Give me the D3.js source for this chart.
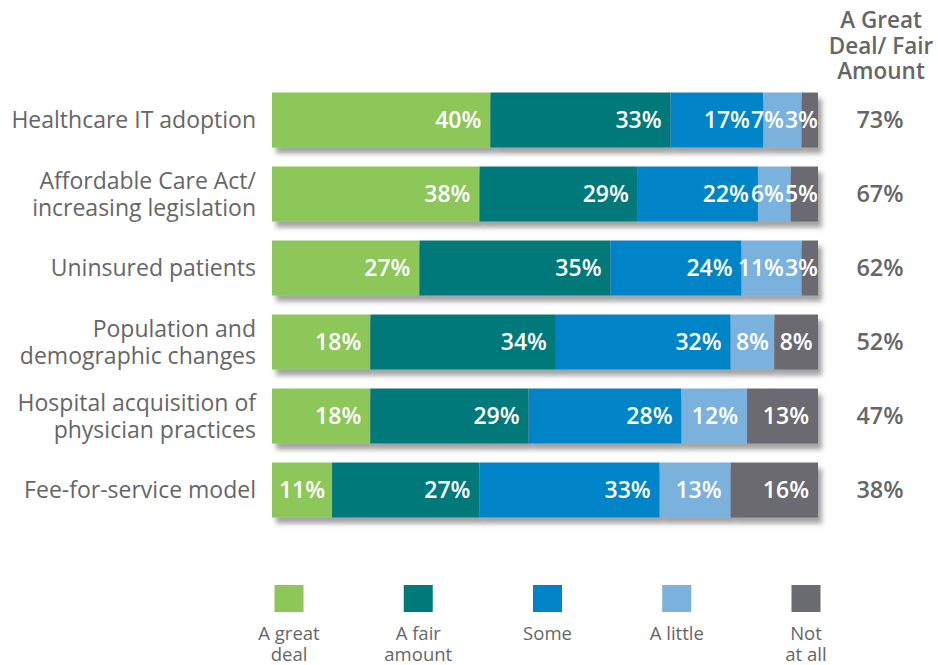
<!DOCTYPE html>
<html>
<head>
<meta charset="utf-8">
<script src="https://cdn.jsdelivr.net/npm/d3@7"></script>
<style>
  body { margin: 0; background: #fff; }
  svg { display: block; font-family: "Open Sans", "Noto Sans", sans-serif; }
  .cat { fill: #666; font-size: 23px; }
  .val { fill: #fff; font-size: 23px; font-weight: 600; }
  .tot { fill: #666; font-size: 23.5px; font-weight: 600; }
  .hdr { fill: #666; font-size: 22.5px; font-weight: 600; }
  .leg { fill: #666; font-size: 18.5px; }
</style>
</head>
<body>
<svg id="chart" width="938" height="665"></svg>
<script>
// categories, top to bottom
var categories = [
  ["Healthcare IT adoption"],
  ["Affordable Care Act/", "increasing legislation"],
  ["Uninsured patients"],
  ["Population and", "demographic changes"],
  ["Hospital acquisition of", "physician practices"],
  ["Fee-for-service model"]
];

var series = ["A great deal", "A fair amount", "Some", "A little", "Not at all"];
var seriesLabels = [["A great", "deal"], ["A fair", "amount"], ["Some"], ["A little"], ["Not", "at all"]];
var colors = ["#8dc75a", "#00797a", "#0084c8", "#7ab1dd", "#6a6b70"];

var greatDeal  = [40, 38, 27, 18, 18, 11];
var fairAmount = [33, 29, 35, 34, 29, 27];
var some       = [17, 22, 24, 32, 28, 33];
var aLittle    = [7, 6, 11, 8, 12, 13];
var notAtAll   = [3, 5, 3, 8, 13, 16];
var totals     = [73, 67, 62, 52, 47, 38];

var header = ["A Great", "Deal/ Fair", "Amount"];

var svg = d3.select("#chart");

var defs = svg.append("defs");
defs.append("filter")
    .attr("id", "shadow")
    .attr("x", "-5%").attr("y", "-20%")
    .attr("width", "115%").attr("height", "160%")
  .append("feDropShadow")
    .attr("dx", 4).attr("dy", 6)
    .attr("stdDeviation", 2.5)
    .attr("flood-color", "#555")
    .attr("flood-opacity", 0.55);

var rows = categories.map(function(c, i) {
  return {
    label: c,
    values: [greatDeal[i], fairAmount[i], some[i], aLittle[i], notAtAll[i]],
    total: totals[i]
  };
});

var x = d3.scaleLinear().domain([0, 100]).range([272, 818]);
var y = d3.scaleBand()
    .domain(d3.range(rows.length))
    .range([83, 527])
    .paddingInner(0.257)
    .paddingOuter(0.1285);

var row = svg.selectAll(".row")
    .data(rows)
  .enter().append("g")
    .attr("class", "row")
    .attr("transform", function(d, i) { return "translate(0," + y(i) + ")"; });

// stacked segments
row.each(function(d) {
  var g = d3.select(this);
  var acc = 0;
  var segs = d.values.map(function(v, k) {
    var s = { v: v, k: k, x0: acc, x1: acc + v };
    acc += v;
    return s;
  });

  var bars = g.append("g").attr("filter", "url(#shadow)");
  bars.selectAll("rect")
      .data(segs)
    .enter().append("rect")
      .attr("x", function(s) { return x(s.x0); })
      .attr("y", 0)
      .attr("width", function(s) { return x(s.x1) - x(s.x0); })
      .attr("height", y.bandwidth())
      .attr("fill", function(s) { return colors[s.k]; });

  var labels = g.selectAll(".val")
      .data(segs)
    .enter().append("text")
      .attr("class", "val")
      .attr("y", y.bandwidth() / 2)
      .attr("dy", "0.36em")
      .attr("text-anchor", "end")
      .text(function(s) { return s.v + "%"; });

  // place from right to left so cramped labels push left instead of overlapping
  var limit = Infinity;
  labels.nodes().reverse().forEach(function(node) {
    var s = d3.select(node).datum();
    var w = node.getComputedTextLength();
    var segW = x(s.x1) - x(s.x0);
    var pad = segW > w + 18 ? 9 : Math.max(0, (segW - w) / 2);
    var right = Math.min(x(s.x1) - pad, limit);
    d3.select(node).attr("x", right);
    limit = right - w - 1;
  });

  // category label
  var lines = d.label;
  var lh = 27;
  var txt = g.append("text")
      .attr("class", "cat")
      .attr("text-anchor", "end")
      .attr("x", 256);
  lines.forEach(function(l, j) {
    txt.append("tspan")
        .attr("x", 256)
        .attr("y", y.bandwidth() / 2 + (j - (lines.length - 1) / 2) * lh)
        .attr("dy", "0.36em")
        .text(l);
  });

  // total
  g.append("text")
      .attr("class", "tot")
      .attr("text-anchor", "middle")
      .attr("x", 880)
      .attr("y", y.bandwidth() / 2)
      .attr("dy", "0.36em")
      .text(d.total + "%");
});

// column header
var h = svg.append("text")
    .attr("class", "hdr")
    .attr("text-anchor", "middle");
header.forEach(function(l, j) {
  h.append("tspan")
      .attr("x", 881)
      .attr("y", 20 + j * 25.5)
      .attr("dy", "0.36em")
      .text(l);
});

// legend
var lx = d3.scalePoint().domain(series).range([289, 806]);
var leg = svg.selectAll(".legend")
    .data(series)
  .enter().append("g")
    .attr("class", "legend")
    .attr("transform", function(d) { return "translate(" + lx(d) + ",0)"; });

leg.append("rect")
    .attr("x", -14.5)
    .attr("y", 585)
    .attr("width", 29)
    .attr("height", 27)
    .attr("fill", function(d, i) { return colors[i]; });

leg.append("text")
    .attr("class", "leg")
    .attr("text-anchor", "middle")
    .each(function(d, i) {
      var t = d3.select(this);
      seriesLabels[i].forEach(function(l, j) {
        t.append("tspan")
            .attr("x", 0)
            .attr("y", 633 + j * 21)
            .attr("dy", "0.36em")
            .text(l);
      });
    });
</script>
</body>
</html>
